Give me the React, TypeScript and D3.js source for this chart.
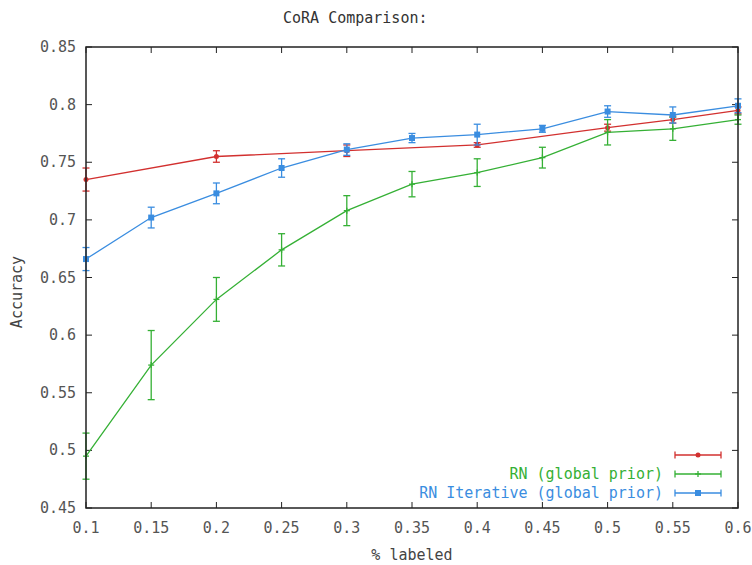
import React from "react";
import * as d3 from "d3";

const xValues = [0.1, 0.15, 0.2, 0.25, 0.3, 0.35, 0.4, 0.45, 0.5, 0.55, 0.6];
const redX = [0.1, 0.2, 0.3, 0.4, 0.5, 0.55, 0.6];
const redY = [0.735, 0.755, 0.76, 0.765, 0.78, 0.787, 0.795];
const redErr = [0.01, 0.005, 0.005, 0.002, 0.003, 0.003, 0.003];
const greenY = [0.495, 0.574, 0.631, 0.674, 0.708, 0.731, 0.741, 0.754, 0.776, 0.779, 0.787];
const greenErr = [0.02, 0.03, 0.019, 0.014, 0.013, 0.011, 0.012, 0.009, 0.011, 0.01, 0.004];
const blueY = [0.666, 0.702, 0.723, 0.745, 0.761, 0.771, 0.774, 0.779, 0.794, 0.791, 0.799];
const blueErr = [0.01, 0.009, 0.009, 0.008, 0.005, 0.004, 0.009, 0.003, 0.005, 0.007, 0.006];
const xTicks = [0.1, 0.15, 0.2, 0.25, 0.3, 0.35, 0.4, 0.45, 0.5, 0.55, 0.6];
const yTicks = [0.45, 0.5, 0.55, 0.6, 0.65, 0.7, 0.75, 0.8, 0.85];
const seriesNames = ["", "RN (global prior)", "RN Iterative (global prior)"];
const seriesColors = ["#d2302f", "#35b035", "#3a8de0"];

const W = 752, H = 565;
const L = 86, R = 738, T = 47, B = 508;
const FONT = "'DejaVu Sans Mono', 'Liberation Mono', monospace";

export default function App() {
  const x = d3.scaleLinear().domain([0.1, 0.6]).range([L, R]);
  const y = d3.scaleLinear().domain([0.45, 0.85]).range([B, T]);
  const fmt = (v: number) => String(+v.toFixed(2));
  const series = [
    { xs: redX, ys: redY, err: redErr, marker: "dot" },
    { xs: xValues, ys: greenY, err: greenErr, marker: "plus" },
    { xs: xValues, ys: blueY, err: blueErr, marker: "square" },
  ];
  const line = d3.line<[number, number]>().x(d => x(d[0])).y(d => y(d[1]));
  const cap = 3.5;

  const marker = (kind: string, cx: number, cy: number, color: string, key: string) => {
    if (kind === "dot") return <circle key={key} cx={cx} cy={cy} r={2.5} fill={color} />;
    if (kind === "square") return <rect key={key} x={cx - 3} y={cy - 3} width={6} height={6} fill={color} />;
    return (
      <g key={key} stroke={color} strokeWidth={1.3}>
        <line x1={cx - 3} x2={cx + 3} y1={cy} y2={cy} />
        <line x1={cx} x2={cx} y1={cy - 3} y2={cy + 3} />
      </g>
    );
  };

  return (
    <svg width={W} height={H} style={{ position: "absolute", left: 0, top: 0, background: "#fff" }}>
      <rect width={W} height={H} fill="#fff" />
      <text x={283} y={23} fontFamily={FONT} fontSize={15} fill="#333">CoRA Comparison:</text>
      {xTicks.map((t, i) => (
        <g key={"xt" + i} stroke="#222" strokeWidth={1}>
          <line x1={x(t)} x2={x(t)} y1={B} y2={B - 6} />
          <line x1={x(t)} x2={x(t)} y1={T} y2={T + 6} />
        </g>
      ))}
      {yTicks.map((t, i) => (
        <g key={"yt" + i} stroke="#222" strokeWidth={1}>
          <line x1={L} x2={L + 6} y1={y(t)} y2={y(t)} />
          <line x1={R} x2={R - 6} y1={y(t)} y2={y(t)} />
        </g>
      ))}
      {xTicks.map((t, i) => (
        <text key={"xl" + i} x={x(t)} y={533} textAnchor="middle" fontFamily={FONT} fontSize={15} fill="#555">{fmt(t)}</text>
      ))}
      {yTicks.map((t, i) => (
        <text key={"yl" + i} x={76} y={y(t) + 5} textAnchor="end" fontFamily={FONT} fontSize={15} fill="#555">{fmt(t)}</text>
      ))}
      <text x={412} y={560} textAnchor="middle" fontFamily={FONT} fontSize={15} fill="#444">% labeled</text>
      <text transform={`translate(22,${292}) rotate(-90)`} textAnchor="middle" fontFamily={FONT} fontSize={15} fill="#444">Accuracy</text>
      {series.map((s, si) => {
        const color = seriesColors[si];
        const pts = s.xs.map((xv, i) => [xv, s.ys[i]] as [number, number]);
        return (
          <g key={"s" + si}>
            <path d={line(pts) || ""} fill="none" stroke={color} strokeWidth={1.3} />
            {pts.map((p, i) => {
              const cx = x(p[0]);
              const y1 = y(p[1] - s.err[i]);
              const y2 = y(p[1] + s.err[i]);
              return (
                <g key={"e" + i} stroke={color} strokeWidth={1.3}>
                  <line x1={cx} x2={cx} y1={y1} y2={y2} />
                  <line x1={cx - cap} x2={cx + cap} y1={y1} y2={y1} />
                  <line x1={cx - cap} x2={cx + cap} y1={y2} y2={y2} />
                </g>
              );
            })}
            {pts.map((p, i) => marker(s.marker, x(p[0]), y(p[1]), color, "m" + i))}
          </g>
        );
      })}
      {seriesNames.map((name, i) => {
        const ly = 455 + i * 19;
        const color = seriesColors[i];
        return (
          <g key={"lg" + i}>
            <text x={663} y={ly + 5} textAnchor="end" fontFamily={FONT} fontSize={15} fill={color}>{name}</text>
            <g stroke={color} strokeWidth={1.3}>
              <line x1={675} x2={721} y1={ly} y2={ly} />
              <line x1={675} x2={675} y1={ly - cap} y2={ly + cap} />
              <line x1={721} x2={721} y1={ly - cap} y2={ly + cap} />
            </g>
            {marker(series[i].marker, 698, ly, color, "lm" + i)}
          </g>
        );
      })}
      <rect x={L} y={T} width={R - L} height={B - T} fill="none" stroke="#222" strokeWidth={1.5} />
    </svg>
  );
}
